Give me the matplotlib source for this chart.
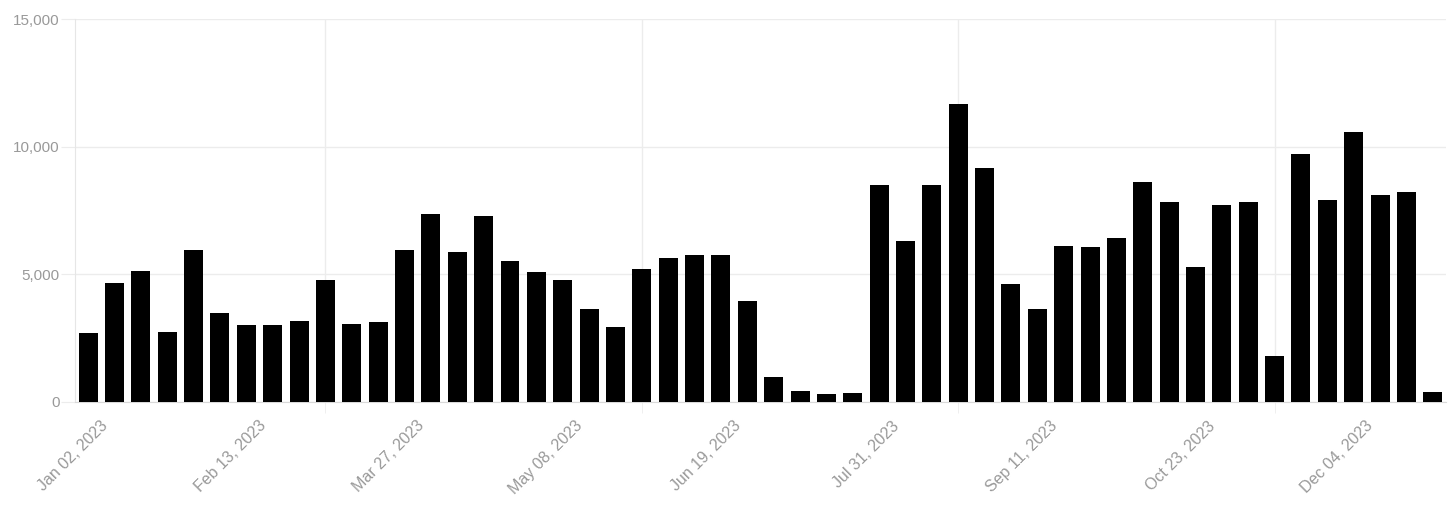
import matplotlib.pyplot as plt
import matplotlib.transforms as mtransforms
import numpy as np
import pandas as pd

plt.rcParams["font.family"] = ["Liberation Sans", "DejaVu Sans"]

# Weekly counts for 2023 (week starting Monday)
weeks = pd.date_range("2023-01-02", periods=52, freq="W-MON")
values = [
    2700, 4650, 5120, 2720, 5950, 3480, 3020, 3000, 3150, 4770,
    3040, 3130, 5940, 7350, 5870, 7290, 5500, 5070, 4780, 3640,
    2930, 5200, 5640, 5730, 5750, 3940, 950, 410, 280, 320,
    8510, 6290, 8480, 11660, 9140, 4610, 3630, 6100, 6060, 6400,
    8590, 7810, 5270, 7720, 7840, 1800, 9690, 7890, 10570, 8100,
    8200, 390,
]
label_every = 6
grid_weeks = [9, 21, 33, 45]

fig = plt.figure(figsize=(14.56, 5.22), dpi=100)
ax = fig.add_axes([0.0515, 0.2308, 0.9416, 0.7328])

x = np.arange(len(values))
ax.bar(x, values, width=0.72, color="black", zorder=3)

ax.set_xlim(-0.5, len(values) - 0.5)
ax.set_ylim(0, 15000)

# y axis
ax.set_yticks([0, 5000, 10000, 15000])
ax.set_yticklabels([f"{v:,}" for v in [0, 5000, 10000, 15000]])
ax.grid(axis="y", color="#ececec", linewidth=1, zorder=0)

# x axis: labels every 6 weeks, grid lines at separate weeks
label_pos = x[::label_every]
ax.set_xticks(label_pos)
ax.set_xticklabels([d.strftime("%b %d, %Y") for d in weeks[::label_every]],
                   rotation=45, ha="right", rotation_mode="anchor")
ax.set_xticks(grid_weeks, minor=True)
ax.grid(axis="x", which="minor", color="#ececec", linewidth=1, zorder=0)

ax.tick_params(axis="x", which="major", length=0, pad=12, labelsize=11.5, labelcolor="#999999")
ax.tick_params(axis="x", which="minor", length=8, color="#ececec")
ax.tick_params(axis="y", length=10, color="#ececec", labelsize=11, labelcolor="#999999", pad=1)

shift = mtransforms.ScaledTranslation(12 / 100, 0, fig.dpi_scale_trans)
for lbl in ax.get_xticklabels():
    lbl.set_transform(lbl.get_transform() + shift)

for side in ["top", "right"]:
    ax.spines[side].set_visible(False)
ax.spines["left"].set_color("#e6e6e6")
ax.spines["bottom"].set_color("#d9d9d9")

fig.savefig("out.png", dpi=100)
